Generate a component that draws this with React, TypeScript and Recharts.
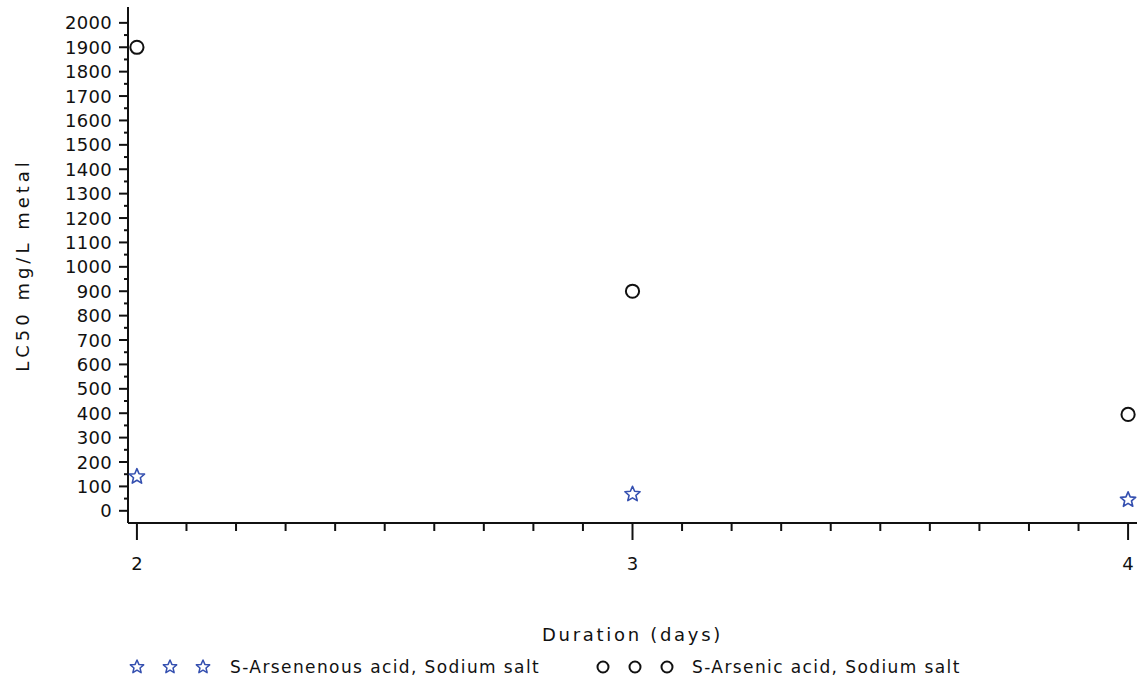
import React from 'react'
import { ScatterChart, Scatter, XAxis, YAxis, Label } from 'recharts'

// LC50 (mg/L metal) by test duration in days
const durations = [2, 3, 4]
const arsenenousLC50 = [140, 68, 45]
const arsenicLC50 = [1900, 900, 395]

const xTicks = [2, 2.1, 2.2, 2.3, 2.4, 2.5, 2.6, 2.7, 2.8, 2.9, 3, 3.1, 3.2, 3.3, 3.4, 3.5, 3.6, 3.7, 3.8, 3.9, 4]
const yTicks = [
  0, 50, 100, 150, 200, 250, 300, 350, 400, 450, 500, 550, 600, 650, 700, 750, 800, 850, 900, 950, 1000,
  1050, 1100, 1150, 1200, 1250, 1300, 1350, 1400, 1450, 1500, 1550, 1600, 1650, 1700, 1750, 1800, 1850, 1900,
  1950, 2000,
]

const seriesNames = ['S-Arsenenous acid, Sodium salt', 'S-Arsenic acid, Sodium salt']

const FONT = '"DejaVu Sans", sans-serif'
const BLUE = '#3550b0'

const arsenenousData = durations.map((d, i) => ({ duration: d, lc50: arsenenousLC50[i] }))
const arsenicData = durations.map((d, i) => ({ duration: d, lc50: arsenicLC50[i] }))

const isWhole = (v: number, step: number) => Math.abs(v / step - Math.round(v / step)) < 1e-6

const starPath = (cx: number, cy: number, R: number, r: number) => {
  const pts: string[] = []
  for (let k = 0; k < 10; k++) {
    const rad = k % 2 === 0 ? R : r
    const a = -Math.PI / 2 + (k * Math.PI) / 5
    pts.push(`${(cx + rad * Math.cos(a)).toFixed(2)},${(cy + rad * Math.sin(a)).toFixed(2)}`)
  }
  return 'M' + pts.join('L') + 'Z'
}

const StarMark = (props: any) => (
  <path d={starPath(props.cx, props.cy, 8, 3.6)} fill="none" stroke={BLUE} strokeWidth={1.6} strokeLinejoin="round" />
)

const CircleMark = (props: any) => (
  <circle cx={props.cx} cy={props.cy} r={6.6} fill="none" stroke="#111" strokeWidth={2} />
)

const XTick = (props: any) => {
  const { x, y, payload } = props
  const major = isWhole(payload.value, 1)
  return (
    <g>
      <line x1={x} x2={x} y1={y} y2={y + (major ? 17 : 8)} stroke="#111" strokeWidth={2} />
      {major && (
        <text x={x} y={y + 40} textAnchor="middle" dominantBaseline="central" fontFamily={FONT} fontSize={18} fill="#111">
          {payload.value}
        </text>
      )}
    </g>
  )
}

const YTick = (props: any) => {
  const { x, y, payload } = props
  const major = isWhole(payload.value, 100)
  return (
    <g>
      <line x1={x - (major ? 9 : 4)} x2={x} y1={y} y2={y} stroke="#111" strokeWidth={2} />
      {major && (
        <text x={x - 16} y={y} textAnchor="end" dominantBaseline="central" fontFamily={FONT} fontSize={18} letterSpacing={0.3} fill="#111">
          {payload.value}
        </text>
      )}
    </g>
  )
}

const LegendStar = ({ x }: { x: number }) => (
  <svg width={20} height={20} style={{ position: 'absolute', left: x - 10, top: 657 }}>
    <path d={starPath(10, 10, 7, 3.2)} fill="none" stroke={BLUE} strokeWidth={1.5} strokeLinejoin="round" />
  </svg>
)

const LegendCircle = ({ x }: { x: number }) => (
  <svg width={20} height={20} style={{ position: 'absolute', left: x - 10, top: 657 }}>
    <circle cx={10} cy={10} r={5.5} fill="none" stroke="#111" strokeWidth={2} />
  </svg>
)

const legendText: React.CSSProperties = {
  position: 'absolute',
  top: 657,
  lineHeight: '20px',
  fontFamily: FONT,
  fontSize: 17,
  letterSpacing: 1.4,
  color: '#111',
  whiteSpace: 'nowrap',
}

export default function App() {
  return (
    <div style={{ position: 'absolute', left: 0, top: 0, width: 1142, height: 683, background: '#fff' }}>
      <ScatterChart width={1142} height={683} margin={{ top: 7, right: 5, left: 0, bottom: 0 }}>
        <XAxis
          dataKey="duration"
          type="number"
          domain={[1.982, 4.018]}
          ticks={xTicks}
          interval={0}
          tick={<XTick />}
          tickLine={false}
          tickSize={0}
          tickMargin={0}
          height={160}
          axisLine={{ stroke: '#111', strokeWidth: 2 }}
          allowDataOverflow
        >
          <Label
            content={(p: any) => (
              <text
                x={p.viewBox.x + p.viewBox.width / 2}
                y={634}
                textAnchor="middle"
                dominantBaseline="central"
                fontFamily={FONT}
                fontSize={18}
                letterSpacing={2.7}
                fill="#111"
              >
                Duration (days)
              </text>
            )}
          />
        </XAxis>
        <XAxis
          xAxisId="top"
          orientation="top"
          type="number"
          domain={[0, 1]}
          height={0}
          tick={false}
          tickLine={false}
          axisLine={{ stroke: '#111', strokeWidth: 2 }}
        />
        <YAxis
          dataKey="lc50"
          type="number"
          domain={[-50, 2065]}
          ticks={yTicks}
          interval={0}
          tick={<YTick />}
          tickLine={false}
          tickSize={0}
          tickMargin={0}
          width={128}
          axisLine={{ stroke: '#111', strokeWidth: 2 }}
          allowDataOverflow
        >
          <Label
            content={(p: any) => {
              const cy = p.viewBox.y + p.viewBox.height / 2
              return (
                <text
                  x={22}
                  y={cy}
                  transform={`rotate(-90 22 ${cy})`}
                  textAnchor="middle"
                  dominantBaseline="central"
                  fontFamily={FONT}
                  fontSize={18}
                  letterSpacing={4}
                  fill="#111"
                >
                  LC50 mg/L metal
                </text>
              )
            }}
          />
        </YAxis>
        <YAxis
          yAxisId="right"
          orientation="right"
          type="number"
          domain={[0, 1]}
          width={0}
          tick={false}
          tickLine={false}
          axisLine={{ stroke: '#111', strokeWidth: 2 }}
        />
        <Scatter name={seriesNames[0]} data={arsenenousData} shape={<StarMark />} isAnimationActive={false} />
        <Scatter name={seriesNames[1]} data={arsenicData} shape={<CircleMark />} isAnimationActive={false} />
      </ScatterChart>

      {[137, 170, 203].map((x) => (
        <LegendStar key={x} x={x} />
      ))}
      <div style={{ ...legendText, left: 230 }}>{seriesNames[0]}</div>
      {[603, 635, 667].map((x) => (
        <LegendCircle key={x} x={x} />
      ))}
      <div style={{ ...legendText, left: 692 }}>{seriesNames[1]}</div>
    </div>
  )
}
